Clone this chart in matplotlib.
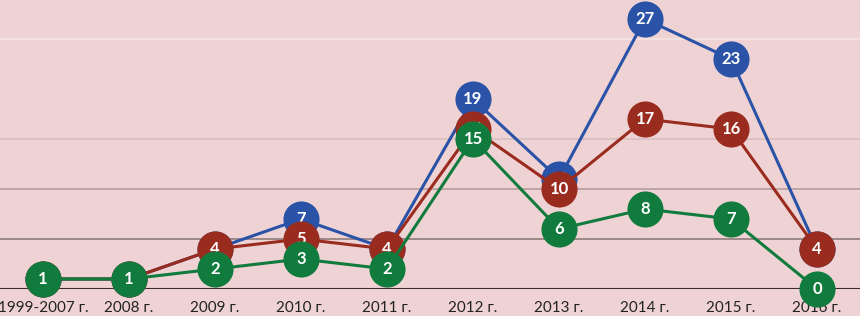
import matplotlib
matplotlib.use("Agg")
import matplotlib.pyplot as plt

categories = ["1999-2007 г.", "2008 г.", "2009 г.", "2010 г.", "2011 г.",
              "2012 г.", "2013 г.", "2014 г.", "2015 г.", "2016 г."]
blue_vals = [1, 1, 4, 7, 4, 19, 11, 27, 23, 4]
red_vals = [1, 1, 4, 5, 4, 16, 10, 17, 16, 4]
green_vals = [1, 1, 2, 3, 2, 15, 6, 8, 7, 0]

bg = "#efd3d4"
plt.rcParams["font.family"] = ["Lato", "DejaVu Sans"]

fig = plt.figure(figsize=(8.6, 3.16), dpi=100, facecolor=bg)
ax = fig.add_axes([0, 27 / 316, 1, 289 / 316])
ax.set_facecolor(bg)
ax.set_xlim(-0.5, 9.5)
ax.set_ylim(0, 28.9)

# gridlines (Excel-like, fading upward)
grid_colors = {5: "#8f7c7c", 10: "#b39d9e", 15: "#d6bfc0", 25: "#f7e3e3"}
for y, c in grid_colors.items():
    ax.axhline(y, color=c, lw=1.2, zorder=1)
ax.axhline(0, color="#3b2b2b", lw=1.5, zorder=1)

x = range(len(categories))
series = [(blue_vals, "#2a53a7"), (red_vals, "#9a2c1f"), (green_vals, "#117b3d")]
for i, (vals, col) in enumerate(series):
    z = 3 + i * 2
    ax.plot(x, vals, color=col, lw=2.2, zorder=z, clip_on=False)
    ax.plot(x, vals, "o", color=col, ms=26, mew=0, zorder=z, clip_on=False)
    for xi, v in zip(x, vals):
        ax.text(xi, v, str(v), color="white", fontsize=12, fontweight="bold",
                ha="center", va="center", zorder=z + 1)

ax.set_xticks(list(x))
ax.set_xticklabels(categories, fontsize=11, color="#222222")
ax.tick_params(axis="x", length=0, pad=9)
ax.set_yticks([])
for s in ax.spines.values():
    s.set_visible(False)

fig.savefig("out.png", dpi=100, facecolor=bg)
